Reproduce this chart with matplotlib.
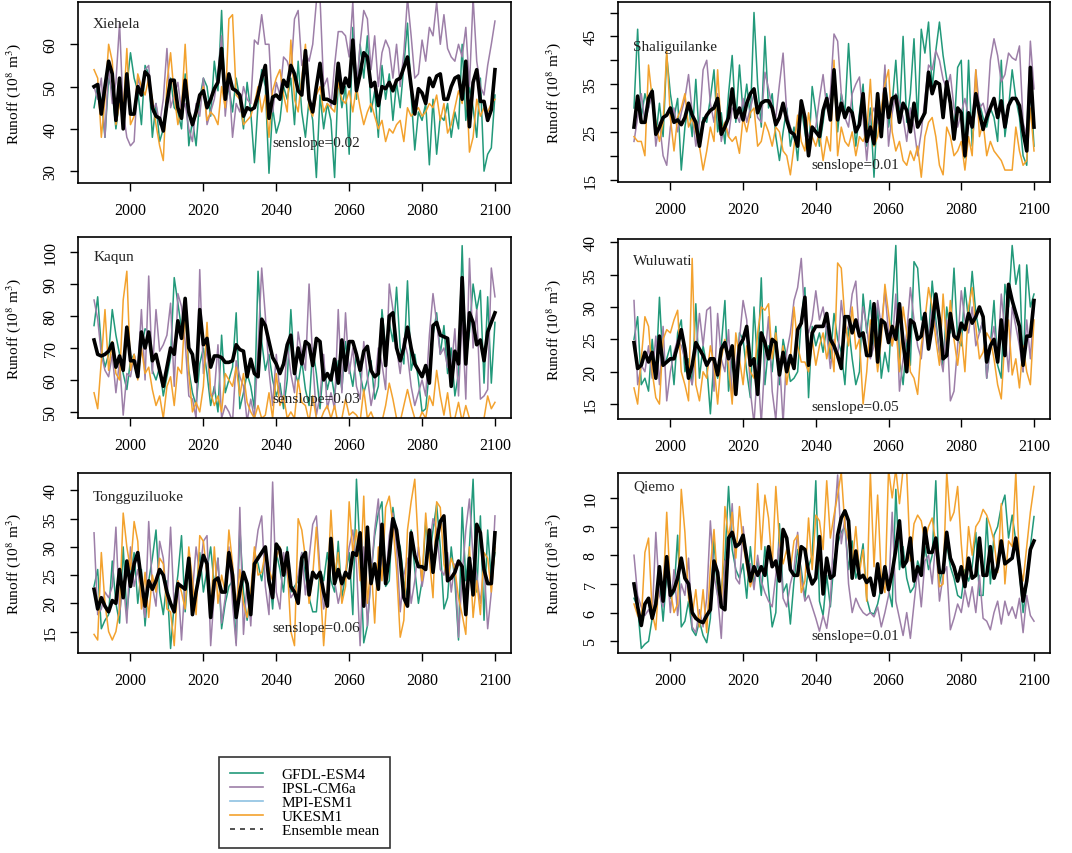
import matplotlib
matplotlib.use("Agg")
import matplotlib.pyplot as plt
from matplotlib.lines import Line2D
import numpy as np

plt.rcParams["font.family"] = ["Liberation Serif", "DejaVu Serif"]
plt.rcParams["mathtext.fontset"] = "stix"

years = np.arange(1990, 2101)

# Xiehela
xie_gfdl = [45, 50, 47, 38, 52, 49, 40, 47, 44, 50,
            58, 52, 49, 41, 55, 53, 38, 46, 37, 40,
            48, 52, 45, 44, 40, 53, 36, 42, 36, 47,
            52, 50, 43, 56, 49, 68, 45, 50, 44, 52,
            47, 40, 51, 44, 32, 46, 54, 50, 29.5, 45,
            39, 42, 50, 47, 52, 41, 56, 44, 38, 47,
            42, 28.5, 48, 40, 46, 42, 28.5, 52, 45, 50,
            34, 64, 47, 60, 52, 62, 44, 49, 38, 55,
            47, 53, 42, 51, 45, 55, 65, 48, 35, 44,
            42, 46, 31.5, 47, 34, 43, 42, 46, 38, 44,
            40, 60, 42, 50, 45, 38, 52, 30, 34, 35.5,
            48]
xie_ipsl = [50, 47, 52, 38, 55, 46, 51, 65, 44, 38,
            36, 37, 52, 49, 54, 55, 44, 46, 41, 47,
            59, 45, 48, 51, 44, 46, 40, 37, 46, 43,
            52, 41, 44, 47, 53, 62, 43, 52, 38, 46,
            44, 50, 47, 46, 61, 60, 67, 60, 60, 44,
            51, 48, 57, 56, 53, 66, 68, 55, 58, 56,
            60, 70, 71, 50, 52, 45, 55, 63, 63, 62,
            57, 70, 49, 60, 68, 66, 54, 62, 50, 58,
            61, 59, 52, 60, 50, 58, 71, 62, 52, 53,
            61, 56, 64, 62, 70, 60, 67, 59, 57, 56,
            60, 57, 64, 50, 71, 56, 50, 48, 55, 60,
            65.5]
xie_uk = [54, 52, 38, 47, 60, 56, 41, 46, 44, 59,
          41, 43, 53, 50, 48, 52, 47, 41, 36, 32.5,
          51, 58, 48, 41, 45, 60, 44, 42, 43, 47,
          50, 42, 44, 43, 41, 50, 45, 66, 67, 48,
          47, 41, 42, 43, 46, 50, 44, 48, 38, 49,
          52, 54, 48, 44, 61, 47, 44, 52, 60, 45,
          43, 48, 50, 44, 46, 45, 44, 51, 47, 46,
          49, 44, 50, 45, 41, 44, 46, 43, 40, 42,
          37, 40, 39, 41, 42, 37, 45, 43, 44, 45,
          43, 44, 46, 45, 48, 42, 46, 39, 41, 45,
          49, 46, 54, 34.5, 38, 47, 43, 45, 44, 46,
          47]
xie_mean = [50, 50.5, 43.5, 50, 56, 53, 42, 52, 40, 53,
            43.5, 43.5, 50, 48, 53.5, 52.5, 45, 43, 42.5, 39.5,
            46, 51.5, 51.5, 45, 42.5, 51.5, 44, 41, 44, 48,
            49, 45, 47, 49.5, 51, 59, 47, 53, 49.5, 49,
            48, 43, 45, 44.5, 45, 48, 52, 55, 42.5, 47.5,
            48, 47, 51.5, 50, 55, 53, 49, 48, 58.5, 47,
            44, 50, 55.5, 47, 47, 46.5, 46, 55.5, 48.5, 52,
            50, 61, 49, 53, 58, 57, 50, 51, 45.5, 50,
            49.5, 51, 49, 51.5, 52, 54.5, 57, 50, 43.5, 49.5,
            48.5, 46, 52, 50, 52.5, 53, 47, 47, 50, 52,
            52.5, 47, 56, 40.5, 51, 54, 46.5, 46.5, 42, 44.5,
            54]

# Shaliguilanke
sha_gfdl = [30, 46.5, 28, 33, 30, 34, 24, 31, 24, 41,
            33, 28, 32, 17, 26, 31, 24, 36, 23, 28,
            27, 32, 38, 25, 29, 22.5, 33, 41, 27, 39,
            29, 35, 28, 50, 35, 26, 45, 30, 33, 24,
            19, 25, 30, 22, 26, 19, 30, 25, 20, 34.5,
            29, 22, 27, 33, 28, 36, 25, 33, 29, 43.5,
            31, 22, 29, 35, 22, 30, 15.5, 31, 24, 38,
            26, 31, 40, 28, 45, 27, 33, 44.5, 27, 46.5,
            41.5, 48, 34, 42, 48, 41, 36, 30, 25, 38.5,
            40, 19.5, 40, 22, 32, 31, 28, 26, 30, 28,
            23, 40, 24, 30, 38, 32, 28, 20, 18, 35,
            22]
sha_ipsl = [23, 28, 33, 27, 30, 33, 22, 27, 20, 18,
            26, 30, 25, 29, 32, 37, 29, 22, 27, 38,
            40, 31, 27, 33, 23, 27, 24, 30, 29, 27,
            32, 27, 30, 33, 28, 27, 37.5, 34, 30, 28,
            35, 41.5, 29, 26, 24, 27, 31, 27, 24, 25,
            26, 32, 37, 30, 33, 45.5, 44, 33, 28, 26,
            33, 35, 36.5, 28, 19, 28, 30, 27, 26, 39,
            22, 29, 33, 31, 28, 23, 30, 26, 20, 25,
            32, 39, 38, 42, 40, 36, 34, 37, 30, 26,
            29, 32, 28, 26, 38, 30, 31, 28, 40, 44.5,
            41, 35.5, 37, 41.5, 40.5, 40, 43, 27, 24, 44,
            34]
sha_uk = [24, 23, 23, 20, 39, 32, 27, 23, 27, 42,
          28, 21, 28, 30, 33, 26, 28, 25, 22, 17,
          21, 26, 23, 38, 25, 27, 24, 23, 24, 20.5,
          28, 25, 29, 30, 22, 23, 27, 25, 22, 26,
          25, 21, 20, 16, 22, 28.5, 23, 21, 29, 24,
          22, 25, 19, 24, 21, 40, 20, 26, 23, 22,
          25, 20, 24, 23, 25, 36, 22, 24, 30, 35,
          38, 25, 21, 23, 19, 18, 21, 19, 22, 15.5,
          24, 27, 28, 24, 18, 16, 26, 24, 20, 21,
          23, 17, 24, 20, 38, 24, 27, 20, 23, 21,
          20, 19, 17, 17, 17, 26, 21, 18, 19, 30,
          21]
sha_mean = [26, 32.5, 27, 27, 32, 33.5, 24.5, 26, 28, 28.5,
            30, 27, 27.5, 26.5, 28, 31, 28.5, 27, 22, 27,
            28.5, 29.5, 30, 32, 24.5, 26, 28, 34, 28, 30,
            27.5, 31, 33, 34, 29, 31, 31.5, 31.5, 30, 26.5,
            28, 31, 27.5, 25, 24.5, 22, 31.5, 28, 20, 26,
            25, 24, 29.5, 32, 27.5, 38, 27.5, 31, 28, 30,
            29, 25, 26.5, 33, 23, 26, 22.5, 33, 24, 34,
            28, 32, 32.5, 27, 31, 29.5, 25, 31, 26, 27.5,
            29, 37.5, 33, 35.5, 35, 28, 35.5, 31, 23.5, 30,
            29, 20, 29, 26, 33, 29, 25.5, 28, 30, 32,
            28, 31.5, 26, 30.5, 32, 32, 30.5, 25, 21, 38.5,
            26]

# Kaqun
kaq_gfdl = [77, 86, 70, 64, 68, 82, 74, 68, 62, 57,
            66, 68, 62, 70, 76, 75, 63, 60, 64, 55,
            61, 67, 92, 84, 76, 82, 63, 56, 52, 65,
            70, 62, 52, 58, 50, 74, 56, 60, 64, 81,
            51, 56, 62, 58, 51, 94, 72, 63, 68, 60,
            55, 59, 51, 60, 82, 63, 59, 66, 57, 52,
            70, 62, 51, 65, 57, 62, 55, 66, 57, 72,
            64, 58, 68, 62, 56, 60, 66, 54, 58, 82,
            70, 78, 72, 89, 70, 65, 91, 63, 68, 60,
            50, 51, 63, 74, 81, 68, 77, 62, 70, 55,
            62, 102, 66, 75, 90, 82, 88, 59, 86, 59,
            78]
kaq_ipsl = [85, 79, 68, 63, 61, 68, 56, 66, 49, 62,
            61, 68, 63, 82, 60, 92.5, 62, 82, 69, 71,
            74, 84, 58, 87, 83, 72, 55, 54, 48, 94.5,
            62, 70, 55, 56, 71, 48, 52, 50, 47, 66,
            61, 58, 47, 54, 48, 70, 95, 80, 63, 52,
            68, 56, 53, 71, 62, 56, 75, 68, 63, 90,
            66, 49, 55, 68, 51, 56, 51, 82, 56, 81,
            62, 70, 58, 54, 72, 61, 52, 58, 70, 65,
            57, 90, 82, 70, 62, 73, 68, 58, 52, 56,
            60, 55, 74, 87, 78, 68, 70, 64, 63, 76,
            55, 80, 54, 98, 70, 82, 54, 55, 57, 95,
            86]
kaq_uk = [56, 51, 66, 82, 63, 72, 62, 60, 85, 94,
          63, 68, 60, 70, 62, 64, 57, 52, 55, 48,
          58, 61, 52, 64, 62, 82, 62, 50, 53, 50,
          58, 78, 56, 52, 55, 50, 62, 60, 58, 64,
          55, 62, 53, 50, 48, 52, 48, 49, 56, 48,
          62, 52, 55, 48, 50, 48, 60, 53, 52, 47,
          55, 48, 47, 50, 52, 48, 52, 46, 48, 54,
          49, 50, 49, 47, 57, 48, 50, 47, 48, 47,
          52, 59, 54, 48, 47, 52, 57, 52, 48, 47,
          50, 48, 55, 52, 63, 55, 49, 56, 47, 48,
          53, 47, 52, 48, 47, 48, 47, 48, 55, 51,
          53]
kaq_mean = [72.5, 68, 67.5, 68, 69, 71.5, 64, 67.5, 63, 76.5,
            66, 66, 61, 75, 70, 75, 66, 68, 63, 58,
            64, 70, 68, 78.5, 73, 85.5, 70, 68, 59.5, 82,
            71, 73, 64, 67.5, 67.5, 67, 65.5, 65.5, 66, 71,
            69.5, 69, 61, 66.5, 62, 61, 79, 77, 72, 67,
            65, 62, 65, 71, 74, 62, 70, 65, 72, 71,
            64.5, 73, 72, 60, 62, 60, 66.5, 59, 72.5, 63,
            72, 72, 68, 63, 69, 70.5, 63, 61, 62, 79,
            64.5, 80, 81, 70, 66, 70, 76.5, 70, 65, 63,
            61, 64.5, 59, 77, 78, 74, 73.5, 73, 58, 69,
            65, 92, 65, 81, 78, 71, 72.5, 66, 75, 78,
            81]

# Wuluwati
wul_gfdl = [25, 28.5, 18, 19, 17, 25, 19, 31.5, 21, 22,
            24, 18, 26, 28, 20, 22, 18, 30.5, 19, 24,
            21, 13.5, 22, 19, 24, 31, 17, 22, 17, 26,
            25, 20, 16, 30, 21, 34.5, 18, 24, 20, 27,
            18, 25, 22, 18.5, 19, 20, 28, 33, 16, 27,
            24, 26, 23, 27, 22, 29, 25, 23, 18, 27,
            22, 18, 20, 32, 26, 31, 24, 30, 19, 23,
            20, 30, 39.5, 22, 18, 25, 21, 37, 36, 28,
            29, 25, 34, 28, 23, 21, 30, 26, 36, 25,
            24, 33, 28, 35.5, 29, 26, 28, 19, 24, 31,
            21, 19, 33.5, 30, 39.5, 33.5, 36.5, 20, 36.5, 30,
            32]
wul_ipsl = [31, 18, 21, 20, 24, 19, 25.5, 18, 27, 15.5,
            20, 23, 25, 24, 22, 20, 18, 23, 29, 24,
            29.5, 30, 17, 29, 22, 20, 26.5, 16, 21, 25,
            31, 28, 17, 12, 21, 12, 22, 28.5, 17, 12.5,
            22, 12, 23, 26, 31, 33, 37.5, 28, 26, 28,
            32.5, 28, 30, 26, 20.5, 25, 22, 31, 26, 27,
            32, 34, 25, 30, 27, 22, 24, 31, 27, 32.5,
            26, 24, 32, 17, 22, 26, 33, 28, 24, 22,
            28, 25, 30, 27, 23, 20, 28, 15.5, 17, 24,
            32.5, 28, 26, 30, 24, 26, 28, 19, 24, 27,
            22, 32, 26, 20, 30, 27, 24, 20, 28, 22,
            30]
wul_uk = [17.5, 15, 22, 28.5, 27, 20, 16, 15, 25, 26.5,
          26, 28, 29.5, 20, 18, 15.5, 37.5, 18, 15.5, 20,
          19, 24, 21, 15, 22, 25, 21, 15, 26, 22,
          18, 24, 20, 19, 26, 30, 29.5, 30.5, 22, 26,
          20, 24, 18, 22, 30, 24, 21.5, 21.5, 20, 25,
          21, 24, 26, 22, 25, 20, 36.8, 36, 28, 24,
          30, 23.5, 25, 15, 20, 28, 26, 20, 25, 33.5,
          29, 24, 27, 20, 30, 26, 20, 19, 16.5, 24,
          28, 33, 30, 25, 21, 32, 24, 31, 25, 21,
          26, 20, 30, 33, 27, 22, 23, 26, 25, 22,
          18, 15.8, 25, 28, 19.5, 22, 17.5, 24, 20, 18,
          28]
wul_mean = [24.5, 20.5, 21, 23, 21.5, 23, 19, 25.5, 21, 21.5,
            22, 22, 24, 26.5, 23.5, 19, 21, 24.5, 23.5, 22.5,
            21, 22, 22, 19.5, 23.5, 24.5, 22, 24, 16.5, 24,
            25, 27, 21, 22, 16.5, 26, 24.5, 22, 25, 24.5,
            19.5, 23, 20, 22.5, 20.5, 26.5, 27.5, 31.5, 21, 26,
            27, 27, 27, 29, 25, 24, 22.5, 20.5, 28.5, 28.5,
            26, 28, 25.5, 26, 22.5, 22.5, 30.5, 21.5, 28, 27.5,
            24.5, 27, 25, 30.5, 24.5, 20, 28, 27.5, 25, 25.5,
            29, 23.5, 27, 32, 28, 22, 22.5, 29, 25.5, 25,
            27.5, 26.5, 29, 27.5, 28.5, 30, 28.5, 21.5, 24, 25,
            21.5, 28, 22.5, 33.5, 31, 29, 27, 21, 25.5, 25.5,
            31]

# Tongguziluoke
ton_gfdl = [23, 26, 15.5, 17, 18, 27.5, 20, 16.5, 30, 18,
            25, 29, 20, 26, 16, 24, 28, 33, 22, 18,
            24, 12, 20, 25, 32, 18.5, 27, 20, 22, 29,
            22, 26, 30, 23, 28, 15.5, 20, 23, 24, 13,
            33.5, 22, 17, 21, 29, 27, 24, 29, 26, 19,
            29, 26, 22, 30, 22, 23, 24, 29, 25, 21,
            18.5, 18.5, 26, 24, 29, 24, 22, 31, 21, 25,
            29, 18, 42, 29, 13, 16, 25, 32, 36, 38,
            23, 24, 37, 32, 30, 24, 21, 33, 26, 20,
            24, 34.5, 28, 33, 37.5, 30, 19, 21, 30, 24,
            13.5, 37, 24, 30, 42, 22, 35.5, 17, 33, 24,
            29]
ton_ipsl = [32.5, 18, 19, 22, 21, 23, 33.5, 18, 24, 16.5,
            30, 23, 26, 21, 17.5, 34.5, 23, 19.5, 31, 28,
            20, 33.5, 19, 24, 13.5, 24, 26, 22, 30, 25,
            31, 32, 12.5, 22, 28, 16.5, 21, 30, 20, 12.5,
            37, 14.5, 24, 16, 28, 33, 35.5, 23, 18, 41.5,
            22, 19, 29, 25, 21, 22, 25, 29, 21.5, 28,
            34, 35.5, 26, 19, 22, 31, 24, 20, 23, 25.5,
            30, 33, 27, 12.5, 30, 16, 25, 33, 38.5, 27,
            24, 32, 36, 30, 18.5, 25, 28, 20, 24, 30,
            23, 27, 30, 35, 33, 26, 25, 29, 22, 27,
            14, 25, 33, 38.5, 28, 25, 20, 27, 15.5, 22,
            35.5]
ton_uk = [14.5, 13.5, 29, 20, 15, 13.5, 15, 19, 36, 30,
          26, 34.5, 31, 19, 25.5, 17.5, 25, 22, 28, 27,
          19, 18.5, 12.5, 24, 22, 19, 30, 24, 18, 32,
          31, 25, 18, 30, 20, 25, 22, 33, 27, 19,
          26, 20, 17.5, 22, 30, 25, 25.5, 29, 26, 24,
          28, 30, 26, 27, 15, 12.5, 35, 33, 28, 20,
          25, 33.5, 24, 12.5, 22, 36.5, 25, 29, 20, 23,
          38, 29, 33, 24, 39, 20, 27, 16.5, 30, 24,
          37, 39, 34, 26, 14, 17, 33, 38, 42, 30,
          24, 36, 28, 21, 38, 37, 27, 24, 28, 26,
          21, 18, 14.5, 30, 17.5, 24, 18, 29, 28, 22,
          30]
ton_mean = [22.5, 19, 21, 19.5, 18.5, 20.5, 20, 26, 21, 27.5,
            23, 27, 29, 24, 19.5, 24, 22.5, 24, 26, 25,
            22, 20, 18.5, 23.5, 23, 22.5, 28, 18, 22, 25.5,
            28.5, 27, 17.5, 24, 24.5, 22, 22, 29, 25, 17.5,
            22, 25.5, 23.5, 18, 27, 28, 29, 30, 24, 21,
            30.5, 29.5, 25, 29, 23, 22, 20, 28, 29, 21.5,
            25.5, 24.5, 25.5, 22, 19.5, 31.5, 23.5, 26, 23.5, 25.5,
            24.5, 29, 28.5, 32.5, 19.5, 33.5, 23.5, 27, 22.5, 34,
            23.5, 28.5, 35, 33, 28, 21, 19.5, 32.5, 28.5, 26.5,
            26.5, 26, 33, 25.5, 31, 34.5, 35.5, 24, 24.5, 25.5,
            27.5, 26.5, 18, 28, 21.5, 34, 32.5, 26, 23.5, 23.5,
            32.5]

# Qiemo
qie_gfdl = [6.5, 6.2, 4.75, 4.9, 5.0, 5.8, 6.5, 7.2, 5.7, 7.3,
            6.5, 6.7, 8.7, 5.5, 5.7, 6.4, 5.4, 5.2, 5.7, 5.2,
            4.95, 5.8, 8.6, 6.6, 6.8, 7.9, 10.4, 8.2, 7.5, 7.2,
            7.7, 6.5, 8.3, 7.0, 7.8, 6.6, 8.3, 6.8, 5.5, 6.0,
            9.1, 6.7, 7.0, 5.6, 7.1, 8.2, 7.5, 6.5, 7.6, 8.0,
            10.6, 6.4, 5.9, 7.3, 6.2, 7.8, 8.4, 8.8, 9.0, 7.5,
            8.5, 7.2, 7.6, 8.4, 6.5, 6.0, 5.95, 6.3, 6.9, 7.5,
            6.8, 6.2, 10.3, 7.5, 8.3, 7.2, 6.7, 6.9, 7.8, 7.4,
            8.3, 7.5, 8.0, 10.6, 7.0, 7.6, 8.4, 7.6, 7.2, 6.6,
            6.5, 7.5, 7.1, 7.6, 8.8, 6.6, 6.6, 9.3, 7.0, 8.7,
            9.0, 9.7, 10.1, 8.6, 9.4, 8.5, 7.4, 6.0, 7.0, 8.3,
            9.35]
qie_ipsl = [8.0, 6.6, 6.2, 5.9, 6.1, 5.8, 8.8, 6.6, 6.2, 7.7,
            6.0, 7.5, 5.9, 7.0, 6.6, 7.9, 5.5, 5.3, 6.1, 5.5,
            6.5, 9.2, 7.3, 6.6, 5.1, 7.8, 7.9, 9.8, 7.2, 7.0,
            9.0, 7.8, 7.7, 6.8, 8.0, 7.1, 6.7, 6.4, 6.2, 7.3,
            8.5, 6.5, 6.2, 7.0, 7.5, 8.8, 7.2, 6.4, 6.6, 6.2,
            5.8, 5.35, 5.9, 5.45, 6.4, 9.0, 10.8, 8.4, 9.3, 7.0,
            6.0, 6.5, 6.2, 6.0, 5.9, 6.0, 5.85, 6.2, 5.5, 6.0,
            6.6, 9.5, 6.4, 5.8, 5.2, 6.0, 5.1, 6.3, 7.5, 6.2,
            7.8, 8.0, 7.0, 8.5, 6.4, 7.3, 7.6, 5.4, 5.8, 6.3,
            6.0, 6.8, 6.2, 6.9, 6.0, 7.3, 5.8, 5.7, 5.4, 6.0,
            6.4, 5.6, 6.4, 5.9, 6.2, 5.8, 6.5, 5.3, 6.6, 5.9,
            5.7]
qie_uk = [6.3, 5.9, 5.7, 8.1, 8.6, 6.0, 5.4, 7.5, 6.7, 9.5,
          6.8, 6.0, 6.3, 10.3, 8.8, 6.5, 5.9, 6.8, 5.5, 6.8,
          5.3, 7.6, 8.9, 7.0, 6.2, 9.7, 8.6, 9.5, 7.9, 9.7,
          8.4, 7.6, 6.9, 7.4, 10.5, 8.2, 10.1, 9.3, 7.6, 10.4,
          8.5, 7.7, 8.2, 7.5, 8.5, 8.7, 6.7, 7.1, 9.3, 7.5,
          9.4, 9.2, 8.2, 10.6, 8.6, 9.4, 10.1, 10.9, 9.0, 8.5,
          7.7, 9.0, 7.4, 8.2, 6.4, 10.9, 7.6, 10.1, 7.2, 6.7,
          11.0, 10.0, 11.0, 9.8, 11.0, 10.9, 7.8, 9.1, 9.4, 9.2,
          8.5, 9.0, 9.3, 8.4, 6.9, 7.0, 10.9, 9.2, 9.5, 10.4,
          8.4, 6.9, 9.0, 8.0, 9.0, 9.2, 9.6, 9.4, 9.0, 8.5,
          7.4, 9.8, 7.0, 8.5, 8.3, 10.9, 7.7, 7.1, 8.3, 9.5,
          10.4]
qie_mean = [7, 6.2, 5.55, 6.3, 6.5, 5.8, 6.3, 7.6, 6.4, 7.95,
            6.6, 6.8, 7.2, 7.9, 7.2, 7.0, 6.0, 5.8, 5.7, 5.65,
            5.9, 6.1, 7.8, 7.4, 6.2, 6.1, 8.6, 8.8, 8.3, 8.4,
            8.7, 7.9, 7.1, 7.6, 7.3, 7.6, 7.3, 8.3, 7.6, 7.8,
            7.1, 8.9, 8.6, 7.5, 7.3, 7.3, 8.3, 8.2, 7.4, 7.0,
            7.2, 8.65, 6.65, 7.9, 7.2, 7.3, 8.7, 9.3, 9.55, 9.2,
            7.2, 8.15, 7.2, 7.3, 7.05, 7.2, 6.6, 7.7, 6.7, 7.6,
            6.8, 7.4, 8.2, 9.2, 7.6, 7.8, 8.6, 7.1, 7.6, 7.3,
            8.95, 8.1, 8.1, 8.6, 7.4, 7.4, 8.8, 7.9, 7.6, 7.1,
            7.6, 6.9, 7.9, 7.2, 7.3, 8.6, 7.3, 7.3, 8.3, 7.2,
            7.6, 8.5, 7.7, 7.8, 7.9, 8.6, 7.6, 6.4, 7.1, 8.2,
            8.5]

station_names = ["Xiehela", "Shaliguilanke", "Kaqun", "Wuluwati", "Tongguziluoke", "Qiemo"]
slopes = [0.02, 0.01, 0.03, 0.05, 0.06, 0.01]
model_names = ["GFDL-ESM4", "IPSL-CM6a", "MPI-ESM1", "UKESM1", "Ensemble mean"]

C_GFDL = "#22997a"
C_IPSL = "#9d7fa8"
C_MPI = "#8ec1e2"
C_UK = "#f3a22e"

W, H = 1072, 854
fig = plt.figure(figsize=(W / 100, H / 100), dpi=100)


def add_axes_px(left, top, right, bottom):
    return fig.add_axes([left / W, (H - bottom) / H, (right - left) / W, (bottom - top) / H])


# panel layout: pixel box, y limits, y ticks, tick labels, name y, slope y
panels = [
    ((78, 3, 511, 184), (27.2, 70), [30, 40, 50, 60], None, 0.88, 0.225),
    ((618, 3, 1050, 183), (14.5, 52.2), list(range(15, 55, 5)),
     ["15", "", "25", "", "35", "", "45", ""], 0.75, 0.10),
    ((78, 238, 511, 419), (48.1, 104.7), [50, 60, 70, 80, 90, 100], None, 0.89, 0.11),
    ((618, 240, 1050, 420), (12.7, 40.5), [15, 20, 25, 30, 35, 40], None, 0.88, 0.07),
    ((78, 474, 511, 654), (11.2, 43.1), [15, 20, 25, 30, 35, 40], None, 0.87, 0.14),
    ((618, 474, 1050, 654), (4.59, 10.87), [5, 6, 7, 8, 9, 10], None, 0.93, 0.095),
]
series = [
    (xie_gfdl, xie_ipsl, xie_uk, xie_mean),
    (sha_gfdl, sha_ipsl, sha_uk, sha_mean),
    (kaq_gfdl, kaq_ipsl, kaq_uk, kaq_mean),
    (wul_gfdl, wul_ipsl, wul_uk, wul_mean),
    (ton_gfdl, ton_ipsl, ton_uk, ton_mean),
    (qie_gfdl, qie_ipsl, qie_uk, qie_mean),
]

for i, (box, ylim, yt, ytl, name_y, slope_y) in enumerate(panels):
    ax = add_axes_px(*box)
    gfdl, ipsl, uk, mean = series[i]
    ax.plot(years, gfdl, color=C_GFDL, lw=1.1)
    ax.plot(years, ipsl, color=C_IPSL, lw=1.1)
    ax.plot(years, uk, color=C_UK, lw=1.1)
    ax.plot(years, mean, color="black", lw=2.6)
    ax.set_xlim(1985.6, 2104.4)
    ax.set_ylim(*ylim)
    ax.set_xticks([2000, 2020, 2040, 2060, 2080, 2100])
    ax.set_yticks(yt)
    if ytl is not None:
        ax.set_yticklabels(ytl)
    ax.tick_params(axis="both", direction="out", length=6, width=1.0, labelsize=11.5, pad=8)
    ax.tick_params(axis="y", labelrotation=90, pad=8)
    for lab in ax.get_yticklabels():
        lab.set_va("center")
    for sp in ax.spines.values():
        sp.set_linewidth(1.2)
    ax.set_ylabel("Runoff (10$^8$ m$^3$)", fontsize=11, labelpad=14)
    ax.text(0.035, name_y, station_names[i], transform=ax.transAxes,
            fontsize=11, ha="left", va="center", color="#222222")
    ax.text(0.55, slope_y, f"senslope={slopes[i]:.2f}", transform=ax.transAxes,
            fontsize=11, ha="center", va="center", color="#222222")

handles = [
    Line2D([], [], color=C_GFDL, lw=1.2),
    Line2D([], [], color=C_IPSL, lw=1.2),
    Line2D([], [], color=C_MPI, lw=1.2),
    Line2D([], [], color=C_UK, lw=1.2),
    Line2D([], [], color="#333333", lw=1.2, ls=(0, (3, 3))),
]
leg = fig.legend(handles, model_names, loc="lower left",
                 bbox_to_anchor=(219 / W, 5 / H), frameon=True, fancybox=False,
                 edgecolor="black", fontsize=11, handlelength=2.2,
                 labelspacing=0.02, borderpad=0.7, handletextpad=1.2,
                 borderaxespad=0)
leg.get_frame().set_linewidth(1.2)

fig.savefig("out.png", dpi=100)
